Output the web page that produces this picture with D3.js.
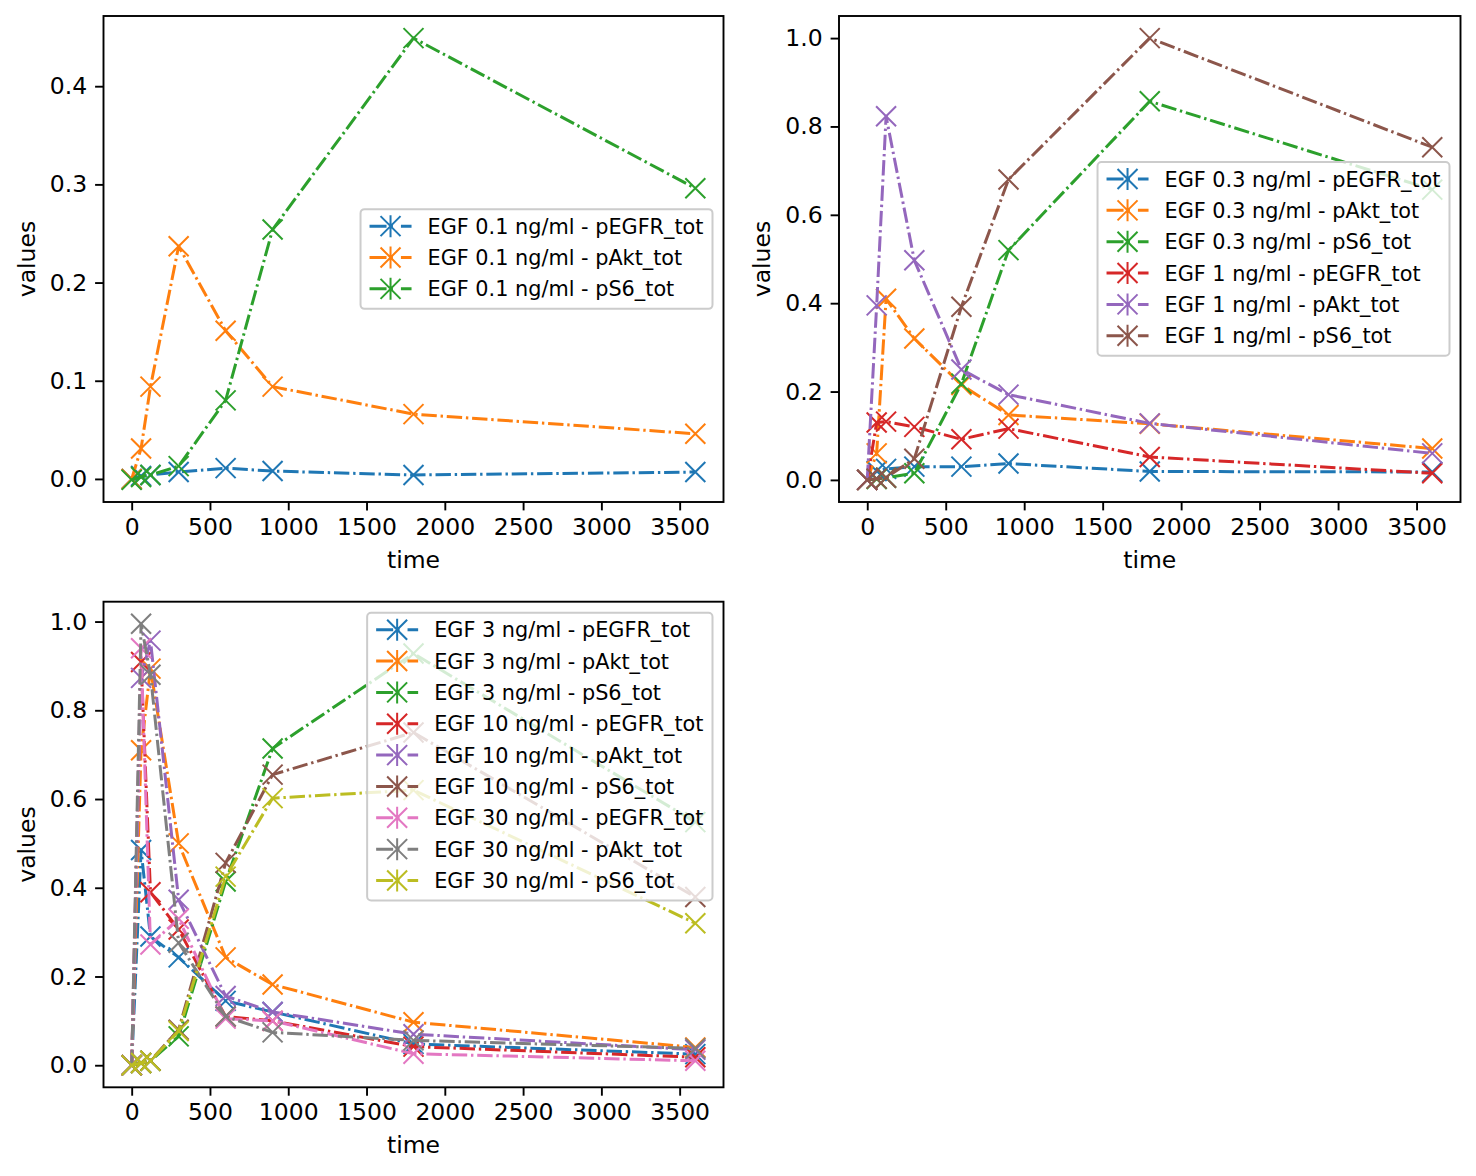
<!DOCTYPE html>
<meta charset="utf-8">
<body style="margin:0;background:#fff">
<script src="https://d3js.org/d3.v7.min.js"></script>
<script>
// sampling times (s)
var times = [0, 60, 120, 300, 600, 900, 1800, 3600];
var readouts = ["pEGFR_tot", "pAkt_tot", "pS6_tot"];
var colors = ["#1f77b4", "#ff7f0e", "#2ca02c", "#d62728", "#9467bd",
              "#8c564b", "#e377c2", "#7f7f7f", "#bcbd22"];

// EGF 0.1
var egf01_pEGFR = [0, 0.003, 0.004, 0.007, 0.011, 0.008, 0.004, 0.007];
var egf01_pAkt  = [0, 0.031, 0.094, 0.237, 0.151, 0.094, 0.066, 0.046];
var egf01_pS6   = [-0.001, 0.002, 0.004, 0.013, 0.080, 0.254, 0.449, 0.296];
// EGF 0.3
var egf03_pEGFR = [0, 0.020, 0.025, 0.030, 0.030, 0.037, 0.019, 0.018];
var egf03_pAkt  = [0, 0.060, 0.410, 0.320, 0.215, 0.147, 0.127, 0.071];
var egf03_pS6   = [0, 0.002, 0.005, 0.015, 0.218, 0.520, 0.857, 0.657];
// EGF 1
var egf1_pEGFR  = [0, 0.130, 0.132, 0.120, 0.092, 0.116, 0.052, 0.015];
var egf1_pAkt   = [0, 0.395, 0.823, 0.497, 0.250, 0.193, 0.128, 0.060];
var egf1_pS6    = [0, 0.003, 0.005, 0.048, 0.392, 0.680, 1.000, 0.753];
// EGF 3
var egf3_pEGFR  = [0, 0.485, 0.290, 0.243, 0.145, 0.120, 0.048, 0.025];
var egf3_pAkt   = [0, 0.710, 0.894, 0.500, 0.243, 0.182, 0.097, 0.040];
var egf3_pS6    = [0, 0.005, 0.010, 0.065, 0.414, 0.714, 0.928, 0.548];
// EGF 10
var egf10_pEGFR = [0, 0.909, 0.390, 0.306, 0.110, 0.100, 0.042, 0.018];
var egf10_pAkt  = [0, 0.873, 0.957, 0.373, 0.156, 0.120, 0.070, 0.035];
var egf10_pS6   = [0, 0.005, 0.010, 0.080, 0.456, 0.655, 0.750, 0.379];
// EGF 30
var egf30_pEGFR = [0, 0.940, 0.272, 0.330, 0.105, 0.100, 0.026, 0.010];
var egf30_pAkt  = [0, 0.995, 0.880, 0.276, 0.110, 0.074, 0.056, 0.038];
var egf30_pS6   = [0, 0.005, 0.010, 0.077, 0.425, 0.602, 0.620, 0.320];

var xTicks = [0, 500, 1000, 1500, 2000, 2500, 3000, 3500];
var yTicksSmall = [0.0, 0.1, 0.2, 0.3, 0.4];
var yTicksBig = [0.0, 0.2, 0.4, 0.6, 0.8, 1.0];

var panels = [
  {x: 103.5, y: 16, w: 620, h: 486, doses: ["0.1"],
   values: [egf01_pEGFR, egf01_pAkt, egf01_pS6], yticks: yTicksSmall,
   legend: "centerright"},
  {x: 839, y: 16, w: 621.5, h: 486, doses: ["0.3", "1"],
   values: [egf03_pEGFR, egf03_pAkt, egf03_pS6, egf1_pEGFR, egf1_pAkt, egf1_pS6],
   yticks: yTicksBig, legend: 146},
  {x: 103.5, y: 601.7, w: 620, h: 485.6, doses: ["3", "10", "30"],
   values: [egf3_pEGFR, egf3_pAkt, egf3_pS6, egf10_pEGFR, egf10_pAkt, egf10_pS6,
            egf30_pEGFR, egf30_pAkt, egf30_pS6],
   yticks: yTicksBig, legend: 11}
];

var width = 1476, height = 1176;
var font = "DejaVu Sans, sans-serif";
var dash = "15.4,3.8,2.4,3.8";

var svg = d3.select("body").append("svg")
    .attr("width", width)
    .attr("height", height)
    .style("font-family", font);

panels.forEach(drawPanel);

function pad(ext) {
  var s = ext[1] - ext[0];
  return [ext[0] - 0.05 * s, ext[1] + 0.05 * s];
}

function drawPanel(p) {
  var g = svg.append("g").attr("transform", "translate(" + p.x + "," + p.y + ")");

  var x = d3.scaleLinear().domain(pad(d3.extent(times))).range([0, p.w]);
  var yExt = d3.extent(d3.merge(p.values));
  var y = d3.scaleLinear().domain(pad(yExt)).range([p.h, 0]);

  var labels = [];
  p.doses.forEach(function(d) {
    readouts.forEach(function(r) { labels.push("EGF " + d + " ng/ml - " + r); });
  });

  var line = d3.line()
    .x(function(d, i) { return x(times[i]); })
    .y(function(d) { return y(d); });

  var plot = g.append("g");
  p.values.forEach(function(vals, k) {
    var s = plot.append("g");
    s.append("path")
      .attr("d", line(vals))
      .attr("fill", "none")
      .attr("stroke", colors[k])
      .attr("stroke-width", 3)
      .attr("stroke-dasharray", dash)
      .attr("stroke-linejoin", "round");
    s.selectAll("path.mk")
      .data(vals)
      .enter().append("path")
      .attr("class", "mk")
      .attr("d", "M-10,-10L10,10M-10,10L10,-10")
      .attr("transform", function(d, i) { return "translate(" + x(times[i]) + "," + y(d) + ")"; })
      .attr("stroke", colors[k])
      .attr("stroke-width", 2)
      .attr("fill", "none");
  });

  // axes
  var xAxis = g.append("g")
    .attr("transform", "translate(0," + p.h + ")")
    .call(d3.axisBottom(x).tickValues(xTicks).tickFormat(d3.format("d"))
      .tickSizeOuter(0).tickSize(8.4).tickPadding(8));
  var yAxis = g.append("g")
    .call(d3.axisLeft(y).tickValues(p.yticks).tickFormat(d3.format(".1f"))
      .tickSizeOuter(0).tickSize(8.4).tickPadding(8));
  [xAxis, yAxis].forEach(function(a) {
    a.select(".domain").remove();
    a.selectAll("line").attr("stroke", "#000").attr("stroke-width", 1.9);
    a.selectAll("text").attr("fill", "#000")
      .style("font-family", font).style("font-size", "23.5px");
  });

  // frame
  g.append("rect")
    .attr("width", p.w).attr("height", p.h)
    .attr("fill", "none").attr("stroke", "#000").attr("stroke-width", 1.9);

  g.append("text")
    .attr("x", p.w / 2).attr("y", p.h + 66)
    .attr("text-anchor", "middle")
    .style("font-size", "23.5px")
    .text("time");
  g.append("text")
    .attr("transform", "translate(-69," + (p.h / 2) + ")rotate(-90)")
    .attr("text-anchor", "middle")
    .style("font-size", "23.5px")
    .text("values");

  // legend
  var lg = g.append("g");
  var box = lg.append("rect")
    .attr("fill", "#fff").attr("fill-opacity", 0.8)
    .attr("stroke", "#cccccc").attr("stroke-width", 2)
    .attr("rx", 4).attr("ry", 4);
  var rowH = 31.35;
  var maxW = 0;
  labels.forEach(function(lab, k) {
    var ry = 17 + k * rowH;
    var row = lg.append("g").attr("transform", "translate(0," + ry + ")");
    row.append("line")
      .attr("x1", 9).attr("x2", 51).attr("y1", 0).attr("y2", 0)
      .attr("stroke", colors[k]).attr("stroke-width", 3)
      .attr("stroke-dasharray", "17,4,2.4,8");
    row.append("path")
      .attr("d", "M20,-10L40,10M20,10L40,-10M30,-11L30,11")
      .attr("stroke", colors[k]).attr("stroke-width", 2)
      .attr("fill", "none");
    var t = row.append("text")
      .attr("x", 67).attr("dy", "0.36em")
      .style("font-size", "20.8px")
      .text(lab);
    maxW = Math.max(maxW, t.node().getComputedTextLength());
  });
  var bw = 67 + maxW + 9;
  var bh = 17 + (labels.length - 1) * rowH + 20;
  box.attr("width", bw).attr("height", bh);
  var lx = p.w - 11 - bw, ly;
  if (p.legend === "centerright") ly = (p.h - bh) / 2;
  else ly = p.legend;
  lg.attr("transform", "translate(" + lx + "," + ly + ")");
}
</script>
</body>
</html>
